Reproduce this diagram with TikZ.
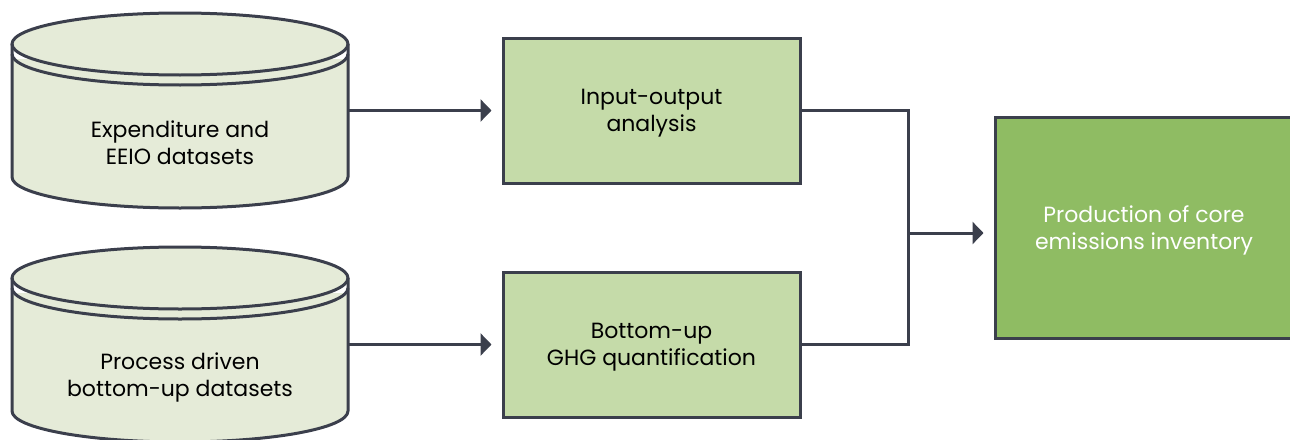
\documentclass[tikz,border=0pt]{standalone}
\usepackage{fontspec}
\setmainfont{Poppins}
\usetikzlibrary{arrows.meta}
\definecolor{ink}{HTML}{3B3F4C}
\definecolor{dbfill}{HTML}{E5EBD8}
\definecolor{procfill}{HTML}{C5DBA9}
\definecolor{outfill}{HTML}{8FBC63}
\begin{document}
\begin{tikzpicture}
[x=0.5pt,y=-0.5pt,line width=1.5pt,font=\fontsize{11}{13.5}\selectfont]
\tikzstyle{proc node}=[draw=ink,fill=procfill,minimum width=148.5pt,minimum height=72.5pt,align=center,inner sep=0,text depth=-13pt]
\tikzstyle{out node}=[proc node,fill=outfill,text=white,minimum width=149pt,minimum height=110.5pt]
\tikzstyle{db text}=[align=center,inner sep=0]
\tikzstyle{link}=[draw=ink,-{Triangle[length=5.5pt,width=11pt]},shorten >=5pt]

\useasboundingbox (0,0) rectangle (1290,439);

\foreach \y in {0,234}{
  \fill[dbfill] (12,{59+\y}) -- (12,{177+\y}) arc[start angle=180,end angle=0,x radius=168,y radius=31] -- (348,{59+\y}) -- cycle;
  \fill[dbfill] (180,{44+\y}) ellipse[x radius=168,y radius=31];
  \draw[ink] (12,{44+\y}) -- (12,{177+\y}) arc[start angle=180,end angle=0,x radius=168,y radius=31] -- (348,{44+\y});
  \draw[ink] (180,{44+\y}) ellipse[x radius=168,y radius=31];
  \draw[ink] (12,{54+\y}) arc[start angle=180,end angle=0,x radius=168,y radius=31];
}

\node(ds1)[db text]at(180,143){Expenditure and\\EEIO datasets};
\node(ds2)[db text]at(180,377){Process driven\\bottom-up datasets};
\coordinate(ds1e)at(348,110.5);
\coordinate(ds2e)at(348,344.5);

\node(io)[proc node]at(651.5,110.5){Input-output\\analysis};
\node(bu)[proc node]at(651.5,344.5){Bottom-up\\GHG quantification};
\node(inv)[out node]at(1144,227.5){Production of core\\emissions inventory};
\coordinate(inw)at([yshift=-2.75pt]inv.west);

\draw[link](ds1e)--(io.west);
\draw[link](ds2e)--(bu.west);
\draw[ink](io.east)--++(53.5pt,0)coordinate(j)|-(bu.east);
\draw[link](j|-inw)--(inw);
\end{tikzpicture}
\end{document}
